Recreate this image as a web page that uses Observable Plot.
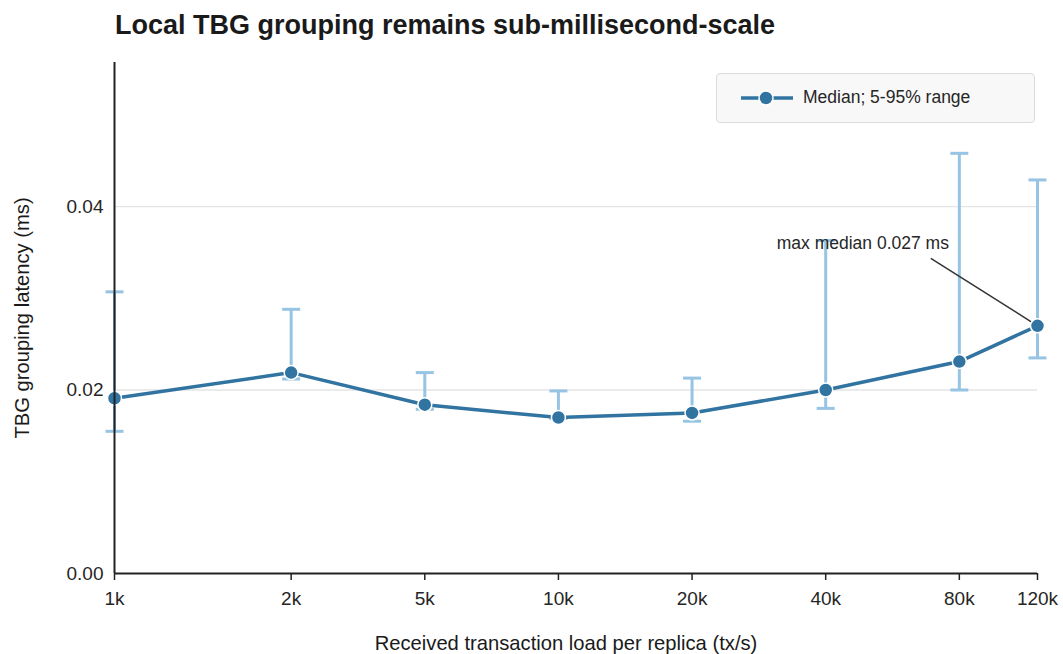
<!DOCTYPE html>
<html>
<head>
<meta charset="utf-8">
<script src="https://cdn.jsdelivr.net/npm/d3@7"></script>
<script src="https://cdn.jsdelivr.net/npm/@observablehq/plot@0.6"></script>
<style>
  body { margin: 0; background: #ffffff; font-family: "Liberation Sans", Arial, sans-serif; }
  #wrap { position: relative; width: 1063px; height: 654px; }
  #title { position: absolute; left: 115px; top: 10px; font-size: 27px; font-weight: bold; color: #1a1a1a; white-space: nowrap; }
  #legend { position: absolute; left: 716px; top: 73px; width: 317px; height: 48px; border: 1px solid #dcdcdc; border-radius: 4px; background: #f8f8f8; }
  #legend svg { position: absolute; left: 22px; top: 14px; }
  #legend span { position: absolute; left: 86px; top: 13px; font-size: 17.5px; color: #262626; white-space: nowrap; }
  #chart { position: absolute; left: 0; top: 0; }
</style>
</head>
<body>
<div id="wrap">
  <div id="chart"></div>
  <div id="title">Local TBG grouping remains sub-millisecond-scale</div>
  <div id="legend">
    <svg width="56" height="20"><line x1="2" y1="10" x2="54" y2="10" stroke="#3274a1" stroke-width="3.5"/><circle cx="27" cy="10" r="7" fill="#3274a1" stroke="#fff" stroke-width="1.5"/></svg>
    <span>Median; 5-95% range</span>
  </div>
</div>
<script>
const labels = ["1k", "2k", "5k", "10k", "20k", "40k", "80k", "120k"];
const loads = [1000, 2500, 5000, 10000, 20000, 40000, 80000, 120000];
const medians = [0.0191, 0.0219, 0.0184, 0.0170, 0.0175, 0.0200, 0.0231, 0.0270];
const p5 = [0.0155, 0.0212, 0.0179, 0.0169, 0.0166, 0.0180, 0.0200, 0.0235];
const p95 = [0.0307, 0.0288, 0.0219, 0.0199, 0.0213, 0.0363, 0.0458, 0.0429];
const yTicks = [0, 0.02, 0.04];
const annotationText = "max median 0.027 ms";
const xLabel = "Received transaction load per replica (tx/s)";
const yLabel = "TBG grouping latency (ms)";

const data = labels.map((label, i) => ({label, load: loads[i], median: medians[i], p5: p5[i], p95: p95[i]}));
const maxIdx = medians.indexOf(d3.max(medians));
const maxPoint = data[maxIdx];
// annotation anchor (data space)
const annot = {tx: 48500, ty: 0.0360, ax: 69000, ay: 0.03436};

const cap = {draw(ctx) { ctx.moveTo(-9, 0); ctx.lineTo(9, 0); }};

const dark = "#3274a1";
const light = "#96c4e2";

const chart = Plot.plot({
  width: 1063,
  height: 654,
  marginLeft: 114,
  marginRight: 26,
  marginTop: 62,
  marginBottom: 81,
  style: {fontFamily: "Liberation Sans, Arial, sans-serif", background: "transparent", color: "#262626"},
  x: {type: "log", domain: [1000, 120000]},
  y: {domain: [0, 0.0557]},
  marks: [
    Plot.ruleY(yTicks.filter(d => d > 0), {stroke: "#e5e5e5", strokeWidth: 1.3}),
    Plot.axisX({ticks: loads, tickFormat: () => "", tickSize: 7, stroke: "#222", strokeWidth: 1.5, label: null}),
    Plot.text(data, {x: "load", text: "label", frameAnchor: "bottom", dy: 31, fontSize: 19, fill: "#262626"}),
    Plot.axisY({ticks: yTicks, tickFormat: d3.format(".2f"), tickSize: 0, tickPadding: 11, fontSize: 19, label: null}),
    Plot.text([xLabel], {text: d => d, frameAnchor: "bottom", dy: 76, dx: -10, fontSize: 20.2, fill: "#1a1a1a"}),
    Plot.text([yLabel], {text: d => d, frameAnchor: "left", textAnchor: "middle", rotate: -90, dx: -92, fontSize: 20.2, fill: "#1a1a1a"}),
    Plot.ruleX(data, {x: "load", y1: "p5", y2: "p95", stroke: light, strokeWidth: 3}),
    Plot.dot(data, {x: "load", y: "p95", symbol: cap, stroke: light, strokeWidth: 3, fill: "none"}),
    Plot.dot(data, {x: "load", y: "p5", symbol: cap, stroke: light, strokeWidth: 3, fill: "none"}),
    Plot.link([annot], {x1: "ax", y1: "ay", x2: () => maxPoint.load, y2: () => maxPoint.median, stroke: "#333", strokeWidth: 1.5}),
    Plot.text([annot], {x: "tx", y: "ty", text: () => annotationText, fontSize: 17.5, fill: "#262626"}),
    Plot.line(data, {x: "load", y: "median", stroke: dark, strokeWidth: 3.5}),
    Plot.dot(data, {x: "load", y: "median", r: 7, fill: dark, stroke: "#fff", strokeWidth: 1.5}),
    Plot.ruleX([1000], {stroke: "#222", strokeWidth: 2}),
    Plot.ruleY([0], {stroke: "#222", strokeWidth: 2})
  ]
});
document.getElementById("chart").appendChild(chart);
</script>
</body>
</html>
